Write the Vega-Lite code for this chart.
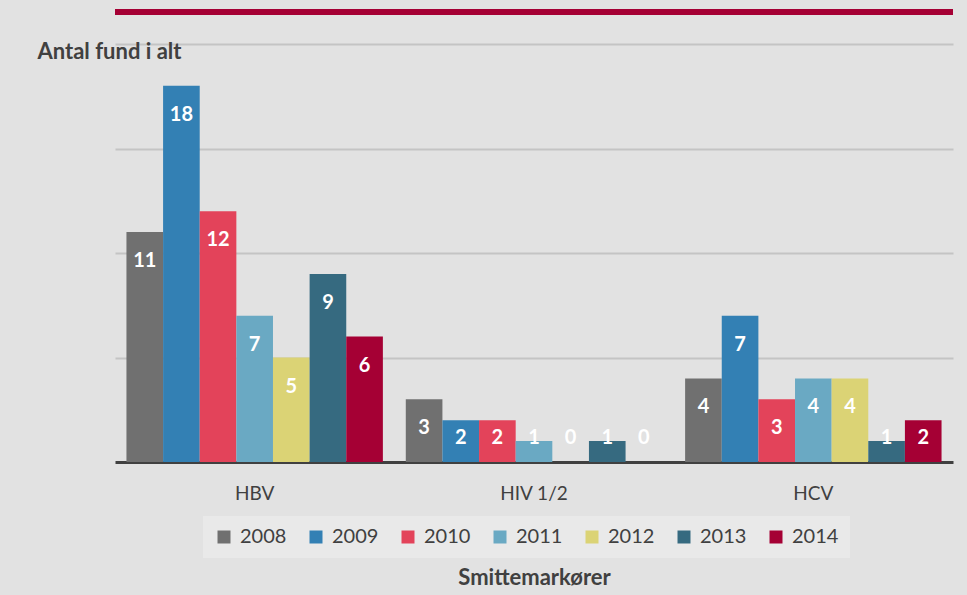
{
  "$schema": "https://vega.github.io/schema/vega-lite/v6.json",
  "width": 838,
  "height": 418,
  "autosize": {"type": "none"},
  "padding": {"left": 115, "top": 44, "right": 14, "bottom": 133},
  "background": "#e2e2e2",
  "config": {"view": {"stroke": null}, "font": "Lato"},
  "data": {
    "values": [
      {"marker": "HBV", "year": "2008", "n": 11},
      {"marker": "HBV", "year": "2009", "n": 18},
      {"marker": "HBV", "year": "2010", "n": 12},
      {"marker": "HBV", "year": "2011", "n": 7},
      {"marker": "HBV", "year": "2012", "n": 5},
      {"marker": "HBV", "year": "2013", "n": 9},
      {"marker": "HBV", "year": "2014", "n": 6},
      {"marker": "HIV 1/2", "year": "2008", "n": 3},
      {"marker": "HIV 1/2", "year": "2009", "n": 2},
      {"marker": "HIV 1/2", "year": "2010", "n": 2},
      {"marker": "HIV 1/2", "year": "2011", "n": 1},
      {"marker": "HIV 1/2", "year": "2012", "n": 0},
      {"marker": "HIV 1/2", "year": "2013", "n": 1},
      {"marker": "HIV 1/2", "year": "2014", "n": 0},
      {"marker": "HCV", "year": "2008", "n": 4},
      {"marker": "HCV", "year": "2009", "n": 7},
      {"marker": "HCV", "year": "2010", "n": 3},
      {"marker": "HCV", "year": "2011", "n": 4},
      {"marker": "HCV", "year": "2012", "n": 4},
      {"marker": "HCV", "year": "2013", "n": 1},
      {"marker": "HCV", "year": "2014", "n": 2}
    ]
  },
  "layer": [
    {
      "mark": {"type": "rule", "color": "#A50034", "strokeWidth": 6},
      "encoding": {"y": {"datum": 21.53, "type": "quantitative"}}
    },
    {
      "mark": {"type": "bar"},
      "encoding": {
        "x": {
          "field": "marker",
          "type": "nominal",
          "sort": ["HBV", "HIV 1/2", "HCV"],
          "scale": {"paddingInner": 0.082, "paddingOuter": 0.041},
          "axis": {
            "title": "Smittemarkører",
            "titleFontSize": 22,
            "titleFontWeight": "bold",
            "titleColor": "#404040",
            "titleY": 115,
            "titleBaseline": "middle",
            "labelFontSize": 19,
            "labelColor": "#404040",
            "labelPadding": 22,
            "labelAngle": 0,
            "ticks": false,
            "domainColor": "#404040",
            "domainWidth": 3,
            "grid": false
          }
        },
        "xOffset": {"field": "year", "type": "nominal"},
        "y": {
          "field": "n",
          "type": "quantitative",
          "scale": {"domain": [0, 20], "nice": false},
          "axis": {
            "title": "Antal fund i alt",
            "titleAngle": 0,
            "titleAlign": "left",
            "titleBaseline": "alphabetic",
            "titleX": -78,
            "titleY": 14,
            "titleFontSize": 22,
            "titleFontWeight": "bold",
            "titleColor": "#404040",
            "labels": false,
            "ticks": false,
            "domain": false,
            "grid": true,
            "gridColor": "#c4c4c4",
            "gridWidth": 2,
            "values": [5, 10, 15, 20]
          }
        },
        "color": {
          "field": "year",
          "type": "nominal",
          "scale": {
            "domain": ["2008", "2009", "2010", "2011", "2012", "2013", "2014"],
            "range": ["#707070", "#3380B4", "#E3435A", "#6AA9C3", "#DBD375", "#366A80", "#A50034"]
          },
          "legend": {
            "orient": "none",
            "legendX": 88,
            "legendY": 472,
            "direction": "horizontal",
            "columns": 7,
            "title": null,
            "symbolType": "square",
            "symbolSize": 169,
            "symbolStrokeWidth": 0,
            "symbolOpacity": 1,
            "labelFontSize": 20,
            "labelColor": "#404040",
            "labelOffset": 6,
            "columnPadding": 19,
            "padding": 11,
            "fillColor": "#e9e9e9",
            "strokeColor": null
          }
        }
      }
    },
    {
      "transform": [{"filter": "datum.n >= 2.5"}],
      "mark": {"type": "text", "color": "white", "fontWeight": "bold", "fontSize": 20, "baseline": "middle", "dy": 29},
      "encoding": {
        "x": {"field": "marker", "type": "nominal", "sort": ["HBV", "HIV 1/2", "HCV"]},
        "xOffset": {"field": "year", "type": "nominal"},
        "y": {"field": "n", "type": "quantitative"},
        "text": {"field": "n", "type": "quantitative"}
      }
    },
    {
      "transform": [{"filter": "datum.n < 2.5"}],
      "mark": {"type": "text", "color": "white", "fontWeight": "bold", "fontSize": 20, "baseline": "middle"},
      "encoding": {
        "x": {"field": "marker", "type": "nominal", "sort": ["HBV", "HIV 1/2", "HCV"]},
        "xOffset": {"field": "year", "type": "nominal"},
        "y": {"datum": 1.15, "type": "quantitative"},
        "text": {"field": "n", "type": "quantitative"}
      }
    }
  ]
}
